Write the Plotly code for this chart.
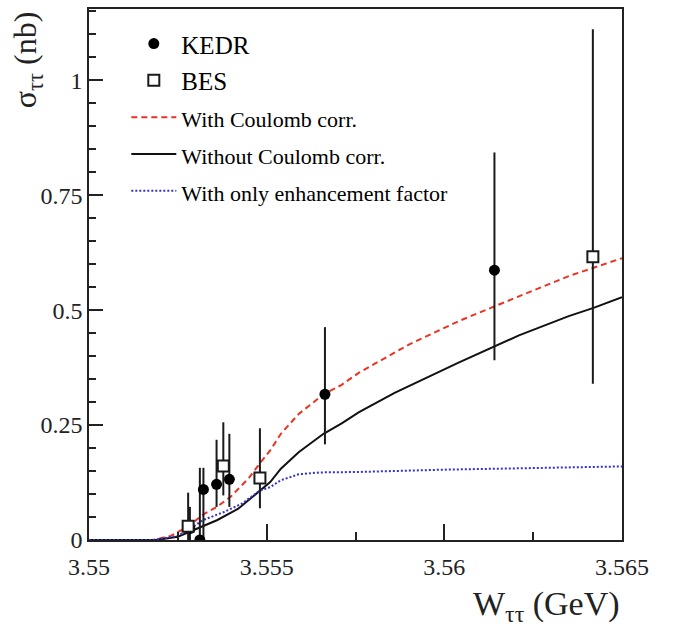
import plotly.graph_objects as go

# ---------------- data ----------------
kedr_x = [3.55284, 3.55312, 3.55322, 3.55359, 3.55395, 3.55664, 3.56141]
kedr_y = [0.025, 0.0, 0.110, 0.121, 0.132, 0.317, 0.587]
kedr_err_plus = [0.047, 0.157, 0.047, 0.097, 0.099, 0.146, 0.256]
kedr_err_minus = [0.047, 0.157, 0.110, 0.049, 0.060, 0.109, 0.196]

bes_x = [3.55279, 3.55378, 3.55481, 3.56418]
bes_y = [0.030, 0.161, 0.135, 0.616]
bes_err_plus = [0.073, 0.095, 0.108, 0.495]
bes_err_minus = [0.073, 0.064, 0.066, 0.276]

coul_x = [3.5500, 3.5518, 3.5523, 3.5525, 3.5528, 3.5532, 3.5536, 3.5540, 3.5545,
          3.5548, 3.5551, 3.5554, 3.5559, 3.5566, 3.5571, 3.5576, 3.5590, 3.5604,
          3.5614, 3.5621, 3.5635, 3.5650]
coul_y = [0.0, 0.0, 0.009, 0.018, 0.030, 0.055, 0.072, 0.095, 0.135,
          0.166, 0.195, 0.231, 0.274, 0.317, 0.337, 0.364, 0.425, 0.476,
          0.507, 0.530, 0.574, 0.613]

nocoul_x = [3.5500, 3.5519, 3.5525, 3.5532, 3.5536, 3.5542, 3.5547, 3.5549, 3.5551,
            3.5554, 3.5559, 3.5566, 3.5571, 3.5576, 3.5586, 3.5604, 3.5614, 3.5621,
            3.5635, 3.5642, 3.5650]
nocoul_y = [0.0, 0.0, 0.007, 0.030, 0.043, 0.068, 0.100, 0.113, 0.126,
            0.155, 0.191, 0.231, 0.253, 0.278, 0.320, 0.386, 0.421, 0.445,
            0.487, 0.505, 0.528]

enh_x = [3.5500, 3.5518, 3.5525, 3.5528, 3.5532, 3.5538, 3.5543, 3.5548, 3.5551,
         3.5554, 3.5559, 3.5565, 3.5576, 3.5600, 3.5650]
enh_y = [0.0, 0.0, 0.009, 0.022, 0.043, 0.061, 0.079, 0.107, 0.115,
         0.130, 0.143, 0.147, 0.148, 0.153, 0.160]

x_tickvals = [3.55, 3.555, 3.56, 3.565]
x_ticktext = ["3.55", "3.555", "3.56", "3.565"]
y_tickvals = [0, 0.25, 0.5, 0.75, 1.0]
y_ticktext = ["0", "0.25", "0.5", "0.75", "1"]

FONT = "Liberation Serif"
INK = "#222222"

fig = go.Figure()

fig.add_trace(go.Scatter(
    x=coul_x, y=coul_y, mode="lines", legendrank=3,
    name='<span style="font-size:22px">With Coulomb corr.</span>',
    line=dict(color="rgb(235,50,35)", width=2, dash="6px,4px"),
))
fig.add_trace(go.Scatter(
    x=nocoul_x, y=nocoul_y, mode="lines", legendrank=4,
    name='<span style="font-size:22px">Without Coulomb corr.</span>',
    line=dict(color="#111111", width=2),
))
fig.add_trace(go.Scatter(
    x=enh_x, y=enh_y, mode="lines", legendrank=5,
    name='<span style="font-size:22px">With only enhancement factor</span>',
    line=dict(color="rgb(50,50,200)", width=2, dash="2px,2px"),
))
fig.add_trace(go.Scatter(
    x=kedr_x, y=kedr_y, mode="markers", legendrank=1,
    name='<span style="font-size:25px">KEDR</span>',
    marker=dict(symbol="circle", size=11, color="black"),
    error_y=dict(type="data", symmetric=False, array=kedr_err_plus,
                 arrayminus=kedr_err_minus, width=0, thickness=2, color="#1a1a1a"),
))
fig.add_trace(go.Scatter(
    x=bes_x, y=bes_y, mode="markers", legendrank=2,
    name='<span style="font-size:25px">BES</span>',
    marker=dict(symbol="square", size=11, color="white",
                line=dict(color="#1a1a1a", width=2)),
    error_y=dict(type="data", symmetric=False, array=bes_err_plus,
                 arrayminus=bes_err_minus, width=0, thickness=2, color="#1a1a1a"),
))

fig.update_layout(
    width=676, height=626,
    margin=dict(l=89, r=54, t=7, b=86),
    paper_bgcolor="white", plot_bgcolor="white",
    font=dict(family=FONT, size=24, color="black"),
    showlegend=True,
    legend=dict(
        x=0.07, y=0.979, xanchor="left", yanchor="top",
        bgcolor="rgba(0,0,0,0)", borderwidth=0,
        font=dict(family=FONT, size=26, color="black"),
        traceorder="normal",
        itemwidth=45,
    ),
)

fig.update_xaxes(
    range=[3.55, 3.565], tickvals=x_tickvals, ticktext=x_ticktext,
    showgrid=False, zeroline=False,
    showline=True, linecolor=INK, linewidth=1.5, mirror=True,
    ticks="inside", ticklen=16, tickwidth=1.5, tickcolor=INK,
    ticklabelstandoff=4,
    tickfont=dict(family=FONT, size=24, color=INK),
    minor=dict(dtick=0.0025, tick0=3.55, ticks="inside", ticklen=8,
               tickwidth=1.5, tickcolor=INK, showgrid=False),
)
fig.update_yaxes(
    range=[0, 1.155], tickvals=y_tickvals, ticktext=y_ticktext,
    showgrid=False, zeroline=False,
    showline=True, linecolor=INK, linewidth=1.5, mirror=True,
    ticks="inside", ticklen=14, tickwidth=1.5, tickcolor=INK,
    tickfont=dict(family=FONT, size=24, color=INK),
    minor=dict(dtick=0.05, tick0=0, ticks="inside", ticklen=7,
               tickwidth=1.5, tickcolor=INK, showgrid=False),
)

fig.add_annotation(
    text="W<sub>ττ</sub> (GeV)", xref="paper", yref="paper",
    x=1.0, y=-0.125, xanchor="right", yanchor="middle", showarrow=False,
    font=dict(family=FONT, size=34, color=INK),
)
fig.add_annotation(
    text="σ<sub>ττ</sub> (nb)", xref="paper", yref="paper",
    x=-0.115, y=1.0, xanchor="center", yanchor="top", textangle=-90,
    showarrow=False,
    font=dict(family=FONT, size=32, color=INK),
)

fig.write_html("out.html")
